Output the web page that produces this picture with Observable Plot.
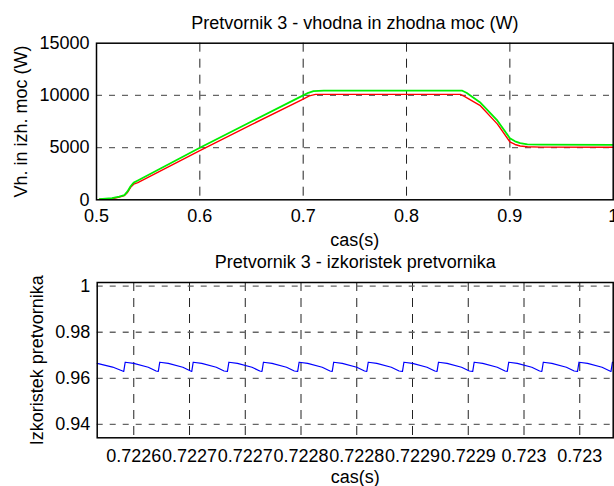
<!DOCTYPE html>
<html><head><meta charset="utf-8">
<script src="https://cdn.jsdelivr.net/npm/d3@7"></script>
<script src="https://cdn.jsdelivr.net/npm/@observablehq/plot@0.6"></script>
<style>
html,body{margin:0;padding:0;background:#fff;}
#wrap{position:relative;width:614px;height:486px;overflow:hidden;background:#fff;}
#top,#bot{position:absolute;left:0;}
#top{top:0px}
#bot{top:250px}
</style></head><body>
<div id="wrap"><div id="top"></div><div id="bot"></div></div>
<script>
// ---------- Top panel: input / output power ----------
const topTitle = "Pretvornik 3 - vhodna in zhodna moc (W)";
const topYLabel = "Vh. in izh. moc (W)";
const xLabel = "cas(s)";
const topXTicks = [0.5, 0.6, 0.7, 0.8, 0.9, 1.0];
const topXLabels = ["0.5", "0.6", "0.7", "0.8", "0.9", "1"];
const topYTicks = [0, 5000, 10000, 15000];
const topYLabels = ["0", "5000", "10000", "15000"];

const inTime  = [0.503, 0.515, 0.522, 0.527, 0.530, 0.533, 0.536, 0.540, 0.600, 0.650, 0.700, 0.705, 0.710, 0.720, 0.854, 0.858, 0.871, 0.888, 0.900, 0.905, 0.910, 0.917, 0.930, 1.000];
const inPower = [60, 150, 300, 450, 800, 1300, 1650, 1850, 4980, 7500, 10000, 10250, 10400, 10450, 10450, 10250, 9350, 7580, 5900, 5600, 5420, 5300, 5280, 5270];

const outTime  = [0.503, 0.515, 0.522, 0.527, 0.530, 0.533, 0.536, 0.540, 0.600, 0.650, 0.700, 0.706, 0.712, 0.852, 0.856, 0.871, 0.888, 0.900, 0.905, 0.910, 0.917, 0.930, 1.000];
const outPower = [50, 100, 250, 400, 700, 1200, 1500, 1650, 4720, 7200, 9650, 9950, 10100, 10100, 9900, 9050, 7250, 5550, 5300, 5150, 5080, 5050, 5040];

// ---------- Bottom panel: efficiency ----------
const botTitle = "Pretvornik 3 - izkoristek pretvornika";
const botYLabel = "Izkoristek pretvornika";
const botXTicks = [0.72260, 0.72265, 0.72270, 0.72275, 0.72280, 0.72285, 0.72290, 0.72295, 0.72300];
const botXLabels = ["0.7226", "0.7227", "0.7227", "0.7228", "0.7228", "0.7229", "0.7229", "0.723", "0.723"];
const botYTicks = [0.94, 0.96, 0.98, 1.0];
const botYLabels = ["0.94", "0.96", "0.98", "1"];

const effTime = [
  0.7225672, 0.7225810, 0.7225900,
  0.7225910, 0.7225923, 0.7226000, 0.7226130, 0.7226200,
  0.7226220, 0.7226233, 0.7226310, 0.7226440, 0.7226510,
  0.7226520, 0.7226533, 0.7226610, 0.7226740, 0.7226810,
  0.7226840, 0.7226853, 0.7226930, 0.7227060, 0.7227130,
  0.7227150, 0.7227163, 0.7227240, 0.7227370, 0.7227440,
  0.7227470, 0.7227483, 0.7227560, 0.7227690, 0.7227760,
  0.7227780, 0.7227793, 0.7227870, 0.7228000, 0.7228070,
  0.7228090, 0.7228103, 0.7228180, 0.7228310, 0.7228380,
  0.7228410, 0.7228423, 0.7228500, 0.7228630, 0.7228700,
  0.7228720, 0.7228733, 0.7228810, 0.7228940, 0.7229010,
  0.7229040, 0.7229053, 0.7229130, 0.7229260, 0.7229330,
  0.7229350, 0.7229363, 0.7229440, 0.7229570, 0.7229640,
  0.7229660, 0.7229673, 0.7229750, 0.7229880, 0.7229950,
  0.7229980, 0.7229993, 0.7230070, 0.7230200, 0.7230270,
  0.7230280, 0.7230293, 0.7230300
];
const effValue = [
  0.9665, 0.9649, 0.9632,
  0.9630, 0.9670, 0.9665, 0.9648, 0.9632,
  0.9630, 0.9670, 0.9665, 0.9648, 0.9632,
  0.9630, 0.9670, 0.9665, 0.9648, 0.9632,
  0.9630, 0.9670, 0.9665, 0.9648, 0.9632,
  0.9630, 0.9670, 0.9665, 0.9648, 0.9632,
  0.9630, 0.9670, 0.9665, 0.9648, 0.9632,
  0.9630, 0.9670, 0.9665, 0.9648, 0.9632,
  0.9630, 0.9670, 0.9665, 0.9648, 0.9632,
  0.9630, 0.9670, 0.9665, 0.9648, 0.9632,
  0.9630, 0.9670, 0.9665, 0.9648, 0.9632,
  0.9630, 0.9670, 0.9665, 0.9648, 0.9632,
  0.9630, 0.9670, 0.9665, 0.9648, 0.9632,
  0.9630, 0.9670, 0.9665, 0.9648, 0.9632,
  0.9630, 0.9670, 0.9665, 0.9648, 0.9632,
  0.9630, 0.9670, 0.9669
];

// ---------- build tables ----------
const inData = inTime.map((t, i) => ({t, p: inPower[i]}));
const outData = outTime.map((t, i) => ({t, p: outPower[i]}));
const effData = effTime.map((t, i) => ({t, v: effValue[i]}));
const lookup = (ticks, labels) => d => {
  const i = ticks.findIndex(v => Math.abs(v - d) < 1e-9);
  return i < 0 ? "" : labels[i];
};

const FONT = "'Liberation Sans', Arial, Helvetica, sans-serif";
const baseStyle = {fontFamily: FONT, fontSize: "18px", background: "white", color: "black", overflow: "visible"};
const hDash = {stroke: "#666", strokeWidth: 1.3, strokeDasharray: "6,7"};
const vDash = {stroke: "#222", strokeWidth: 1, strokeDasharray: "9,7"};

const topPlot = Plot.plot({
  width: 614, height: 250,
  marginTop: 42.7, marginBottom: 50.7, marginLeft: 96, marginRight: 1.3,
  style: baseStyle,
  x: {domain: [0.5, 1], ticks: topXTicks, tickFormat: lookup(topXTicks, topXLabels), tickSize: 0, tickPadding: 9, label: null},
  y: {domain: [0, 15000], ticks: topYTicks, tickFormat: lookup(topYTicks, topYLabels), tickSize: 0, tickPadding: 7, label: null},
  marks: [
    Plot.ruleX(topXTicks.slice(1, -1), vDash),
    Plot.ruleY(topYTicks.slice(1, -1), hDash),
    Plot.line(outData, {x: "t", y: "p", stroke: "#ff0000", strokeWidth: 1.4}),
    Plot.line(inData, {x: "t", y: "p", stroke: "#00ee00", strokeWidth: 1.8}),
    Plot.frame({stroke: "black", strokeWidth: 1.5}),
    Plot.text([topTitle], {frameAnchor: "top", dy: -19.5, textAnchor: "middle", lineAnchor: "middle", fontSize: 18}),
    Plot.text([topYLabel], {frameAnchor: "left", dx: -75, rotate: -90, textAnchor: "middle", lineAnchor: "middle", fontSize: 18}),
    Plot.text([xLabel], {frameAnchor: "bottom", dy: 40, textAnchor: "middle", lineAnchor: "middle", fontSize: 18})
  ]
});
document.getElementById("top").appendChild(topPlot);

const botPlot = Plot.plot({
  width: 614, height: 236,
  marginTop: 32, marginBottom: 48.7, marginLeft: 96.7, marginRight: 1.3,
  style: baseStyle,
  x: {domain: [0.7225672, 0.7230300], ticks: botXTicks, tickFormat: lookup(botXTicks, botXLabels), tickSize: 0, tickPadding: 11, label: null},
  y: {domain: [0.9342, 1.0016], ticks: botYTicks, tickFormat: lookup(botYTicks, botYLabels), tickSize: 0, tickPadding: 7, label: null},
  marks: [
    Plot.ruleX(botXTicks, vDash),
    Plot.ruleY(botYTicks, hDash),
    Plot.line(effData, {x: "t", y: "v", stroke: "#0000ff", strokeWidth: 1.2}),
    Plot.frame({stroke: "black", strokeWidth: 1.5}),
    Plot.text([botTitle], {frameAnchor: "top", dy: -20.5, textAnchor: "middle", lineAnchor: "middle", fontSize: 18}),
    Plot.text([botYLabel], {frameAnchor: "left", dx: -60, rotate: -90, textAnchor: "middle", lineAnchor: "middle", fontSize: 18}),
    Plot.text([xLabel], {frameAnchor: "bottom", dy: 39, textAnchor: "middle", lineAnchor: "middle", fontSize: 18})
  ]
});
document.getElementById("bot").appendChild(botPlot);
</script>
</body></html>
